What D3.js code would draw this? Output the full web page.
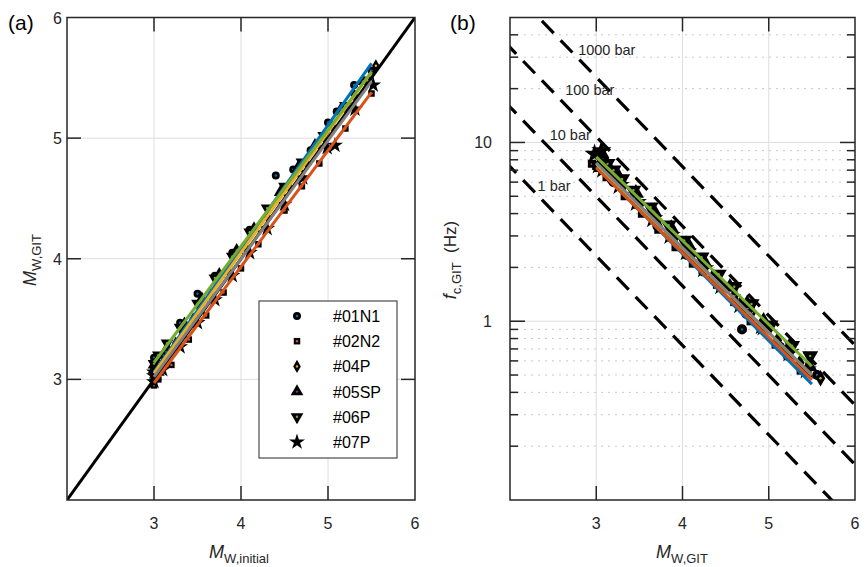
<!DOCTYPE html>
<html>
<head>
<meta charset="utf-8">
<script src="https://cdn.jsdelivr.net/npm/d3@7"></script>
<style>
  body { margin: 0; background: #fff; }
  svg { display: block; font-family: "Liberation Sans", Arial, sans-serif; }
</style>
</head>
<body>
<svg id="chart" width="868" height="567"></svg>
<script>
// 系列名と色
var seriesNames = ["#01N1", "#02N2", "#04P", "#05SP", "#06P", "#07P"];
var seriesColors = ["#0072BD", "#D95319", "#EDB120", "#7E2F8E", "#77AC30", "#000000"];

// (a) Mw initial / Mw GIT, (b) fc
var mwInit = [
  [3.0, 3.0, 3.1, 3.3, 3.5, 3.7, 3.9, 4.1, 4.4, 4.6, 4.8, 5.0, 5.1, 5.3, 5.5],
  [3.0, 3.0, 3.05, 3.2, 3.4, 3.6, 3.8, 4.0, 4.2, 4.5, 4.7, 4.9, 5.2, 5.5],
  [3.0, 3.0, 3.1, 3.25, 3.45, 3.65, 3.85, 4.05, 4.3, 4.55, 4.75, 5.05, 5.3, 5.55],
  [3.0, 3.0, 3.05, 3.15, 3.35, 3.55, 3.75, 3.95, 4.15, 4.45, 4.65, 4.85, 5.15, 5.4],
  [3.0, 3.05, 3.15, 3.3, 3.5, 3.7, 3.9, 4.1, 4.3, 4.5, 4.7, 4.95, 5.2, 5.45],
  [3.0, 3.0, 3.0, 3.1, 3.3, 3.5, 3.7, 3.9, 4.1, 4.3, 4.5, 4.71, 4.99, 5.08, 5.31, 5.52]
];
var mwGit = [
  [3.18, 3.08, 3.2, 3.47, 3.71, 3.86, 4.05, 4.24, 4.69, 4.74, 4.90, 5.13, 5.22, 5.44, 5.56],
  [2.95, 3.02, 3.0, 3.12, 3.33, 3.53, 3.72, 3.92, 4.12, 4.40, 4.60, 4.79, 5.08, 5.37],
  [3.04, 3.1, 3.14, 3.3, 3.5, 3.7, 3.9, 4.1, 4.35, 4.6, 4.8, 5.1, 5.36, 5.6],
  [3.08, 3.12, 3.06, 3.26, 3.46, 3.67, 3.87, 4.07, 4.25, 4.55, 4.75, 4.94, 5.24, 5.47],
  [3.13, 3.2, 3.3, 3.43, 3.63, 3.84, 4.02, 4.22, 4.42, 4.60, 4.80, 5.02, 5.27, 5.48],
  [2.98, 3.03, 3.06, 3.08, 3.27, 3.47, 3.66, 3.86, 4.05, 4.25, 4.45, 4.67, 4.92, 4.94, 5.24, 5.44]
];
var fcGit = [
  [6.2, 7.0, 6.0, 4.5, 3.4, 2.95, 2.35, 1.9, 0.9, 1.1, 0.93, 0.72, 0.64, 0.52, 0.50],
  [7.6, 7.2, 7.4, 6.4, 5.0, 4.0, 3.25, 2.6, 2.1, 1.6, 1.28, 1.0, 0.74, 0.53],
  [7.4, 6.9, 6.6, 5.6, 4.47, 3.59, 2.89, 2.32, 1.77, 1.39, 1.12, 0.78, 0.585, 0.48],
  [8.0, 7.6, 8.7, 6.4, 5.2, 4.1, 3.3, 2.65, 2.15, 1.55, 1.25, 1.0, 0.72, 0.56],
  [7.6, 7.0, 6.25, 5.4, 4.35, 3.45, 2.83, 2.28, 1.83, 1.56, 1.25, 0.95, 0.73, 0.64],
  [8.6, 7.5, 9.0, 7.1, 5.75, 4.62, 3.75, 3.02, 2.45, 1.97, 1.58, 1.24, 0.946, 0.93, 0.667, 0.535]
];

// 回帰直線 (始点と終点)
var fitColors = ["#0072BD", "#D95319", "#EDB120", "#77AC30", "#808080"];
var fitRange = [3.0, 5.5];
var fitA = [[3.06, 5.62], [2.97, 5.38], [3.05, 5.55], [3.14, 5.55], [3.02, 5.47]];
var fitB = [[7.3, 0.445], [7.2, 0.47], [7.6, 0.5], [8.3, 0.56], [7.7, 0.5]];

// 応力降下量の線 (bar) とラベル位置
var stressDrops = [1, 10, 100, 1000];
var stressLabelMw = [2.32, 2.46, 2.64, 2.79];
var stressLabelFc = [5.7, 11, 19.6, 33];

// 軸目盛
var ticksA = [3, 4, 5, 6];
var ticksBx = [3, 4, 5, 6];
var ticksBy = [1, 10];
var minorBy = [0.2, 0.3, 0.4, 0.5, 0.6, 0.7, 0.8, 0.9, 2, 3, 4, 5, 6, 7, 8, 9, 20, 30, 40];

var svg = d3.select("#chart");
var ink = "#262626";
var grid = "#dedede";

var symTypes = [d3.symbolCircle, d3.symbolSquare, d3.symbolDiamond, d3.symbolTriangle, d3.symbolTriangle, d3.symbolStar];
var symSizes = [50, 42, 50, 70, 70, 80];
var rot = [0, 0, 0, 0, 180, 0];

// マーカー (黒塗り + 中心に系列色の点)
function drawMarker(g, i, px, py, k) {
  k = k || 1;
  g.append("path")
    .attr("d", d3.symbol().type(symTypes[i]).size(symSizes[i] * k)())
    .attr("transform", "translate(" + px + "," + py + ") rotate(" + rot[i] + ")")
    .attr("fill", "#000");
  if (i < 5) {
    g.append("circle").attr("cx", px).attr("cy", py).attr("r", 1.2)
      .attr("fill", seriesColors[i]);
  }
}

// ------------------ (a) ------------------
var xA = d3.scaleLinear().domain([2, 6]).range([67, 415]);
var yA = d3.scaleLinear().domain([2, 6]).range([500, 17.5]);

svg.append("clipPath").attr("id", "clipA").append("rect")
  .attr("x", 67).attr("y", 17.5).attr("width", 348).attr("height", 482.5);

var gA = svg.append("g");

// グリッド
gA.selectAll("line.gx").data([3, 4, 5]).enter().append("line")
  .attr("x1", function(d){ return xA(d); }).attr("x2", function(d){ return xA(d); })
  .attr("y1", 17.5).attr("y2", 500).attr("stroke", grid);
gA.selectAll("line.gy").data([3, 4, 5]).enter().append("line")
  .attr("y1", function(d){ return yA(d); }).attr("y2", function(d){ return yA(d); })
  .attr("x1", 67).attr("x2", 415).attr("stroke", grid);

var plotA = gA.append("g").attr("clip-path", "url(#clipA)");

// 1:1 線
plotA.append("line")
  .attr("x1", xA(2)).attr("y1", yA(2)).attr("x2", xA(6)).attr("y2", yA(6))
  .attr("stroke", "#000").attr("stroke-width", 3);

// 点
mwInit.forEach(function(arr, i){
  arr.forEach(function(v, j){ drawMarker(plotA, i, xA(v), yA(mwGit[i][j])); });
});

// 回帰線
fitA.forEach(function(f, i){
  plotA.append("line")
    .attr("x1", xA(fitRange[0])).attr("y1", yA(f[0]))
    .attr("x2", xA(fitRange[1])).attr("y2", yA(f[1]))
    .attr("stroke", fitColors[i]).attr("stroke-width", 3);
});

// 枠と目盛
gA.append("rect").attr("x", 67).attr("y", 17.5).attr("width", 348).attr("height", 482.5)
  .attr("fill", "none").attr("stroke", ink).attr("stroke-width", 1.5);
[3, 4, 5].forEach(function(d){
  gA.append("line").attr("x1", xA(d)).attr("x2", xA(d)).attr("y1", 500).attr("y2", 486).attr("stroke", ink).attr("stroke-width", 1.5);
  gA.append("line").attr("x1", xA(d)).attr("x2", xA(d)).attr("y1", 17.5).attr("y2", 31.5).attr("stroke", ink).attr("stroke-width", 1.5);
  gA.append("line").attr("y1", yA(d)).attr("y2", yA(d)).attr("x1", 67).attr("x2", 81).attr("stroke", ink).attr("stroke-width", 1.5);
  gA.append("line").attr("y1", yA(d)).attr("y2", yA(d)).attr("x1", 415).attr("x2", 401).attr("stroke", ink).attr("stroke-width", 1.5);
});
ticksA.forEach(function(d){
  gA.append("text").attr("x", xA(d)).attr("y", 529).attr("text-anchor", "middle")
    .attr("font-size", 16).attr("fill", ink).text(d);
  gA.append("text").attr("x", 62).attr("y", yA(d) + 6).attr("text-anchor", "end")
    .attr("font-size", 16).attr("fill", ink).text(d);
});

// 凡例
var leg = gA.append("g");
leg.append("rect").attr("x", 259).attr("y", 301).attr("width", 138).attr("height", 157)
  .attr("fill", "#fff").attr("stroke", ink).attr("stroke-width", 1);
seriesNames.forEach(function(name, i){
  var ly = 316 + i * 25.2;
  drawMarker(leg, i, 297, ly);
  leg.append("text").attr("x", 333).attr("y", ly + 6).attr("font-size", 16)
    .attr("fill", "#000").text(name);
});

// 軸ラベル
var labA = gA.append("text").attr("x", 239).attr("y", 558).attr("text-anchor", "middle").attr("fill", ink);
labA.append("tspan").attr("font-style", "italic").attr("font-size", 18).text("M");
labA.append("tspan").attr("font-size", 13).attr("dy", 5).text("W,initial");

var labAy = gA.append("text").attr("transform", "translate(36,260) rotate(-90)")
  .attr("text-anchor", "middle").attr("fill", ink);
labAy.append("tspan").attr("font-style", "italic").attr("font-size", 18).text("M");
labAy.append("tspan").attr("font-size", 13).attr("dy", 5).text("W,GIT");

svg.append("text").attr("x", 8).attr("y", 30).attr("font-size", 21).attr("fill", "#000").text("(a)");

// ------------------ (b) ------------------
var xB = d3.scaleLinear().domain([2, 6]).range([510, 855]);
var yB = d3.scaleLog().domain([0.1, 50]).range([500, 17.5]);

svg.append("clipPath").attr("id", "clipB").append("rect")
  .attr("x", 510).attr("y", 17.5).attr("width", 345).attr("height", 482.5);

var gB = svg.append("g");

gB.selectAll("line.mgy").data(minorBy).enter().append("line")
  .attr("y1", function(d){ return yB(d); }).attr("y2", function(d){ return yB(d); })
  .attr("x1", 510).attr("x2", 855).attr("stroke", "#c8c8c8").attr("stroke-dasharray", "2,5");
gB.selectAll("line.gx").data([3, 4, 5]).enter().append("line")
  .attr("x1", function(d){ return xB(d); }).attr("x2", function(d){ return xB(d); })
  .attr("y1", 17.5).attr("y2", 500).attr("stroke", grid);
gB.selectAll("line.gy").data(ticksBy).enter().append("line")
  .attr("y1", function(d){ return yB(d); }).attr("y2", function(d){ return yB(d); })
  .attr("x1", 510).attr("x2", 855).attr("stroke", grid);

var plotB = gB.append("g").attr("clip-path", "url(#clipB)");

// 応力降下量の線: log fc = c + log(Δσ)/3 - 0.5 Mw
stressDrops.forEach(function(s){
  var c = 1.865 + Math.log10(s) / 3;
  var m0 = 1.5, m1 = 6.5;
  plotB.append("line")
    .attr("x1", xB(m0)).attr("y1", yB(Math.pow(10, c - 0.5 * m0)))
    .attr("x2", xB(m1)).attr("y2", yB(Math.pow(10, c - 0.5 * m1)))
    .attr("stroke", "#000").attr("stroke-width", 3.2).attr("stroke-dasharray", "17,10");
});
stressDrops.forEach(function(s, i){
  plotB.append("text").attr("x", xB(stressLabelMw[i])).attr("y", yB(stressLabelFc[i]) + 5)
    .attr("font-size", 14.5).attr("fill", ink).text(s + " bar");
});

mwGit.forEach(function(arr, i){
  arr.forEach(function(v, j){ drawMarker(plotB, i, xB(v), yB(fcGit[i][j]), 1.6); });
});

fitB.forEach(function(f, i){
  plotB.append("line")
    .attr("x1", xB(fitRange[0])).attr("y1", yB(f[0]))
    .attr("x2", xB(fitRange[1])).attr("y2", yB(f[1]))
    .attr("stroke", fitColors[i]).attr("stroke-width", 3);
});

gB.append("rect").attr("x", 510).attr("y", 17.5).attr("width", 345).attr("height", 482.5)
  .attr("fill", "none").attr("stroke", ink).attr("stroke-width", 1.5);
[3, 4, 5].forEach(function(d){
  gB.append("line").attr("x1", xB(d)).attr("x2", xB(d)).attr("y1", 500).attr("y2", 486).attr("stroke", ink).attr("stroke-width", 1.5);
  gB.append("line").attr("x1", xB(d)).attr("x2", xB(d)).attr("y1", 17.5).attr("y2", 31.5).attr("stroke", ink).attr("stroke-width", 1.5);
});
ticksBy.forEach(function(d){
  gB.append("line").attr("y1", yB(d)).attr("y2", yB(d)).attr("x1", 510).attr("x2", 525).attr("stroke", ink).attr("stroke-width", 1.5);
  gB.append("line").attr("y1", yB(d)).attr("y2", yB(d)).attr("x1", 855).attr("x2", 840).attr("stroke", ink).attr("stroke-width", 1.5);
});
minorBy.forEach(function(d){
  gB.append("line").attr("y1", yB(d)).attr("y2", yB(d)).attr("x1", 510).attr("x2", 518).attr("stroke", ink).attr("stroke-width", 1.5);
  gB.append("line").attr("y1", yB(d)).attr("y2", yB(d)).attr("x1", 855).attr("x2", 847).attr("stroke", ink).attr("stroke-width", 1.5);
});
ticksBx.forEach(function(d){
  gB.append("text").attr("x", xB(d)).attr("y", 529).attr("text-anchor", "middle")
    .attr("font-size", 16).attr("fill", ink).text(d);
});
ticksBy.forEach(function(d){
  gB.append("text").attr("x", 492).attr("y", yB(d) + 6).attr("text-anchor", "end")
    .attr("font-size", 16).attr("fill", ink).text(d);
});

var labB = gB.append("text").attr("x", 682).attr("y", 558).attr("text-anchor", "middle").attr("fill", ink);
labB.append("tspan").attr("font-style", "italic").attr("font-size", 18).text("M");
labB.append("tspan").attr("font-size", 13).attr("dy", 5).text("W,GIT");

var labBy = gB.append("text").attr("transform", "translate(456,260) rotate(-90)")
  .attr("text-anchor", "middle").attr("fill", ink);
labBy.append("tspan").attr("font-style", "italic").attr("font-size", 18).text("f");
labBy.append("tspan").attr("font-size", 13).attr("dy", 5).text("c,GIT");
labBy.append("tspan").attr("font-size", 17).attr("dy", -5).attr("xml:space", "preserve").text("\u00a0\u00a0(Hz)");

svg.append("text").attr("x", 450).attr("y", 30).attr("font-size", 21).attr("fill", "#000").text("(b)");
</script>
</body>
</html>
